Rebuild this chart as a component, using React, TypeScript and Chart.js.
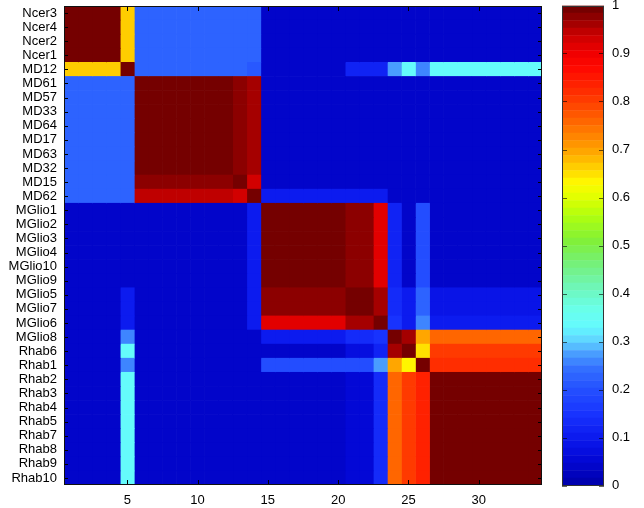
import React, { useEffect, useRef } from "react";
import { Chart, registerables } from "chart.js";

Chart.register(...registerables);

const rowLabels = [
  "Ncer3", "Ncer4", "Ncer2", "Ncer1", "MD12", "MD61", "MD57", "MD33", "MD64", "MD17",
  "MD63", "MD32", "MD15", "MD62", "MGlio1", "MGlio2", "MGlio3", "MGlio4", "MGlio10", "MGlio9",
  "MGlio5", "MGlio7", "MGlio6", "MGlio8", "Rhab6", "Rhab1", "Rhab2", "Rhab3", "Rhab4", "Rhab5",
  "Rhab7", "Rhab8", "Rhab9", "Rhab10",
];

const colNumbers = [
  1, 2, 3, 4, 5, 6, 7, 8, 9, 10, 11, 12, 13, 14, 15, 16, 17, 18, 19, 20,
  21, 22, 23, 24, 25, 26, 27, 28, 29, 30, 31, 32, 33, 34,
];

const xTickValues = [5, 10, 15, 20, 25, 30];
const colorbarTicks = [0, 0.1, 0.2, 0.3, 0.4, 0.5, 0.6, 0.7, 0.8, 0.9, 1];

// columns grouped: 1-4 | 5 | 6-12 | 13 | 14 | 15-20 | 21-22 | 23 | 24 | 25 | 26 | 27-34
const corr: number[][] = [
  [.99,.99,.99,.99, .67, .22,.22,.22,.22,.22,.22,.22, .23, .23, .04,.04,.04,.04,.04,.04, .04,.04, .04, .04, .04, .04, .04,.04,.04,.04,.04,.04,.04,.04],
  [.99,.99,.99,.99, .67, .22,.22,.22,.22,.22,.22,.22, .23, .23, .04,.04,.04,.04,.04,.04, .04,.04, .04, .04, .04, .04, .04,.04,.04,.04,.04,.04,.04,.04],
  [.99,.99,.99,.99, .67, .22,.22,.22,.22,.22,.22,.22, .23, .23, .04,.04,.04,.04,.04,.04, .04,.04, .04, .04, .04, .04, .04,.04,.04,.04,.04,.04,.04,.04],
  [.99,.99,.99,.99, .67, .22,.22,.22,.22,.22,.22,.22, .23, .23, .04,.04,.04,.04,.04,.04, .04,.04, .04, .04, .04, .04, .04,.04,.04,.04,.04,.04,.04,.04],
  [.67,.67,.67,.67, .99, .22,.22,.22,.22,.22,.22,.22, .23, .21, .04,.04,.04,.04,.04,.04, .11,.11, .11, .27, .33, .25, .33,.33,.33,.33,.33,.33,.33,.33],
  [.22,.22,.22,.22, .22, .99,.99,.99,.99,.99,.99,.99, .975, .96, .04,.04,.04,.04,.04,.04, .04,.04, .04, .04, .04, .04, .04,.04,.04,.04,.04,.04,.04,.04],
  [.22,.22,.22,.22, .22, .99,.99,.99,.99,.99,.99,.99, .975, .96, .04,.04,.04,.04,.04,.04, .04,.04, .04, .04, .04, .04, .04,.04,.04,.04,.04,.04,.04,.04],
  [.22,.22,.22,.22, .22, .99,.99,.99,.99,.99,.99,.99, .975, .96, .04,.04,.04,.04,.04,.04, .04,.04, .04, .04, .04, .04, .04,.04,.04,.04,.04,.04,.04,.04],
  [.22,.22,.22,.22, .22, .99,.99,.99,.99,.99,.99,.99, .975, .96, .04,.04,.04,.04,.04,.04, .04,.04, .04, .04, .04, .04, .04,.04,.04,.04,.04,.04,.04,.04],
  [.22,.22,.22,.22, .22, .99,.99,.99,.99,.99,.99,.99, .975, .96, .04,.04,.04,.04,.04,.04, .04,.04, .04, .04, .04, .04, .04,.04,.04,.04,.04,.04,.04,.04],
  [.22,.22,.22,.22, .22, .99,.99,.99,.99,.99,.99,.99, .975, .96, .04,.04,.04,.04,.04,.04, .04,.04, .04, .04, .04, .04, .04,.04,.04,.04,.04,.04,.04,.04],
  [.22,.22,.22,.22, .22, .99,.99,.99,.99,.99,.99,.99, .975, .96, .04,.04,.04,.04,.04,.04, .04,.04, .04, .04, .04, .04, .04,.04,.04,.04,.04,.04,.04,.04],
  [.23,.23,.23,.23, .23, .97,.97,.97,.97,.97,.97,.97, .99, .93, .04,.04,.04,.04,.04,.04, .04,.04, .04, .04, .04, .04, .04,.04,.04,.04,.04,.04,.04,.04],
  [.23,.23,.23,.23, .22, .95,.95,.95,.95,.95,.95,.95, .93, .99, .10,.10,.10,.10,.10,.10, .10,.10, .10, .04, .04, .04, .04,.04,.04,.04,.04,.04,.04,.04],
  [.04,.04,.04,.04, .04, .04,.04,.04,.04,.04,.04,.04, .04, .10, .99,.99,.99,.99,.99,.99, .97,.97, .92, .11, .04, .20, .04,.04,.04,.04,.04,.04,.04,.04],
  [.04,.04,.04,.04, .04, .04,.04,.04,.04,.04,.04,.04, .04, .10, .99,.99,.99,.99,.99,.99, .97,.97, .92, .11, .04, .20, .04,.04,.04,.04,.04,.04,.04,.04],
  [.04,.04,.04,.04, .04, .04,.04,.04,.04,.04,.04,.04, .04, .10, .99,.99,.99,.99,.99,.99, .97,.97, .92, .11, .04, .20, .04,.04,.04,.04,.04,.04,.04,.04],
  [.04,.04,.04,.04, .04, .04,.04,.04,.04,.04,.04,.04, .04, .10, .99,.99,.99,.99,.99,.99, .97,.97, .92, .11, .04, .20, .04,.04,.04,.04,.04,.04,.04,.04],
  [.04,.04,.04,.04, .04, .04,.04,.04,.04,.04,.04,.04, .04, .10, .99,.99,.99,.99,.99,.99, .97,.97, .92, .11, .04, .20, .04,.04,.04,.04,.04,.04,.04,.04],
  [.04,.04,.04,.04, .04, .04,.04,.04,.04,.04,.04,.04, .04, .10, .99,.99,.99,.99,.99,.99, .97,.97, .92, .11, .04, .20, .04,.04,.04,.04,.04,.04,.04,.04],
  [.04,.04,.04,.04, .10, .04,.04,.04,.04,.04,.04,.04, .04, .10, .97,.97,.97,.97,.97,.97, .99,.99, .96, .14, .10, .22, .09,.09,.09,.09,.09,.09,.09,.09],
  [.04,.04,.04,.04, .10, .04,.04,.04,.04,.04,.04,.04, .04, .10, .97,.97,.97,.97,.97,.97, .99,.99, .96, .14, .10, .22, .09,.09,.09,.09,.09,.09,.09,.09],
  [.04,.04,.04,.04, .10, .04,.04,.04,.04,.04,.04,.04, .04, .10, .92,.92,.92,.92,.92,.92, .96,.96, .99, .15, .10, .26, .10,.10,.10,.10,.10,.10,.10,.10],
  [.04,.04,.04,.04, .26, .04,.04,.04,.04,.04,.04,.04, .04, .04, .10,.10,.10,.10,.10,.10, .13,.13, .15, .99, .96, .69, .76,.76,.76,.76,.76,.76,.76,.76],
  [.04,.04,.04,.04, .33, .04,.04,.04,.04,.04,.04,.04, .04, .04, .04,.04,.04,.04,.04,.04, .07,.07, .11, .96, .99, .65, .81,.81,.81,.81,.81,.81,.81,.81],
  [.04,.04,.04,.04, .26, .04,.04,.04,.04,.04,.04,.04, .04, .04, .20,.20,.20,.20,.20,.20, .20,.20, .27, .69, .625, .99, .82,.82,.82,.82,.82,.82,.82,.82],
  [.04,.04,.04,.04, .33, .04,.04,.04,.04,.04,.04,.04, .04, .04, .04,.04,.04,.04,.04,.04, .06,.06, .14, .76, .81, .83, .99,.99,.99,.99,.99,.99,.99,.99],
  [.04,.04,.04,.04, .33, .04,.04,.04,.04,.04,.04,.04, .04, .04, .04,.04,.04,.04,.04,.04, .06,.06, .14, .76, .81, .83, .99,.99,.99,.99,.99,.99,.99,.99],
  [.04,.04,.04,.04, .33, .04,.04,.04,.04,.04,.04,.04, .04, .04, .04,.04,.04,.04,.04,.04, .06,.06, .14, .76, .81, .83, .99,.99,.99,.99,.99,.99,.99,.99],
  [.04,.04,.04,.04, .33, .04,.04,.04,.04,.04,.04,.04, .04, .04, .04,.04,.04,.04,.04,.04, .06,.06, .14, .76, .81, .83, .99,.99,.99,.99,.99,.99,.99,.99],
  [.04,.04,.04,.04, .33, .04,.04,.04,.04,.04,.04,.04, .04, .04, .04,.04,.04,.04,.04,.04, .06,.06, .14, .76, .81, .83, .99,.99,.99,.99,.99,.99,.99,.99],
  [.04,.04,.04,.04, .33, .04,.04,.04,.04,.04,.04,.04, .04, .04, .04,.04,.04,.04,.04,.04, .06,.06, .14, .76, .81, .83, .99,.99,.99,.99,.99,.99,.99,.99],
  [.04,.04,.04,.04, .33, .04,.04,.04,.04,.04,.04,.04, .04, .04, .04,.04,.04,.04,.04,.04, .06,.06, .14, .76, .81, .83, .99,.99,.99,.99,.99,.99,.99,.99],
  [.04,.04,.04,.04, .33, .04,.04,.04,.04,.04,.04,.04, .04, .04, .04,.04,.04,.04,.04,.04, .06,.06, .14, .76, .81, .83, .99,.99,.99,.99,.99,.99,.99,.99],
];

// colormap stops: [value, r, g, b]
const cmapStops: number[][] = [
  [0.00, 0, 0, 168],
  [0.05, 2, 6, 212],
  [0.10, 12, 26, 238],
  [0.15, 24, 52, 255],
  [0.20, 36, 80, 255],
  [0.24, 50, 108, 255],
  [0.27, 70, 150, 255],
  [0.30, 95, 210, 255],
  [0.33, 100, 250, 255],
  [0.37, 105, 255, 230],
  [0.42, 112, 245, 175],
  [0.47, 118, 240, 110],
  [0.51, 130, 240, 55],
  [0.56, 175, 255, 15],
  [0.60, 225, 255, 0],
  [0.63, 255, 250, 0],
  [0.66, 255, 210, 0],
  [0.70, 255, 160, 0],
  [0.74, 255, 120, 0],
  [0.78, 255, 80, 0],
  [0.82, 255, 45, 0],
  [0.87, 255, 8, 0],
  [0.90, 240, 0, 0],
  [0.94, 200, 0, 0],
  [0.97, 150, 0, 0],
  [1.00, 106, 0, 0],
];
const cmapLevels = 64;

function interpColor(t: number): string {
  for (let i = 1; i < cmapStops.length; i++) {
    const a = cmapStops[i - 1];
    const b = cmapStops[i];
    if (t <= b[0]) {
      const f = (t - a[0]) / (b[0] - a[0]);
      const r = Math.round(a[1] + (b[1] - a[1]) * f);
      const g = Math.round(a[2] + (b[2] - a[2]) * f);
      const bl = Math.round(a[3] + (b[3] - a[3]) * f);
      return `rgb(${r},${g},${bl})`;
    }
  }
  const l = cmapStops[cmapStops.length - 1];
  return `rgb(${l[1]},${l[2]},${l[3]})`;
}

function cmapColor(v: number): string {
  const lvl = Math.min(cmapLevels - 1, Math.max(0, Math.floor(v * cmapLevels)));
  return interpColor((lvl + 0.5) / cmapLevels);
}

const FONT = { family: "'Liberation Sans', Arial, Helvetica, sans-serif", size: 13 };

const framePlugin = {
  id: "heatFrame",
  afterDraw(chart: any) {
    const { ctx, chartArea } = chart;
    const { left, right, top, bottom } = chartArea;
    const x = chart.scales.x;
    const y = chart.scales.y;
    ctx.save();
    ctx.strokeStyle = "#000";
    ctx.lineWidth = 1;
    ctx.beginPath();
    y.ticks.forEach((_: any, i: number) => {
      const py = Math.round(y.getPixelForTick(i)) + 0.5;
      ctx.moveTo(left, py);
      ctx.lineTo(left + 4, py);
      ctx.moveTo(right, py);
      ctx.lineTo(right - 4, py);
    });
    x.ticks.forEach((t: any) => {
      const px = Math.round(x.getPixelForValue(t.value)) + 0.5;
      ctx.moveTo(px, bottom);
      ctx.lineTo(px, bottom - 5);
      ctx.moveTo(px, top);
      ctx.lineTo(px, top + 5);
    });
    ctx.stroke();
    ctx.strokeStyle = "#111";
    ctx.strokeRect(Math.round(left) + 0.5, Math.round(top) + 0.5, Math.round(right - left) - 1, Math.round(bottom - top) - 1);
    ctx.restore();
  },
};

const colorbarPlugin = {
  id: "cbarFrame",
  afterDraw(chart: any) {
    const { ctx, chartArea } = chart;
    const { left, right, top, bottom } = chartArea;
    const y = chart.scales.y;
    ctx.save();
    ctx.strokeStyle = "rgba(0,0,0,0.6)";
    ctx.lineWidth = 1;
    ctx.beginPath();
    y.ticks.forEach((t: any) => {
      const py = Math.round(y.getPixelForValue(t.value)) + 0.5;
      ctx.moveTo(left, py);
      ctx.lineTo(left + 5, py);
      ctx.moveTo(right, py);
      ctx.lineTo(right - 5, py);
    });
    ctx.stroke();
    ctx.strokeStyle = "#333";
    ctx.strokeRect(Math.round(left) + 0.5, Math.round(top) + 0.5, Math.round(right - left) - 1, Math.round(bottom - top) - 1);
    ctx.restore();
  },
};

export default function App() {
  const mainRef = useRef<HTMLCanvasElement | null>(null);
  const cbarRef = useRef<HTMLCanvasElement | null>(null);

  useEffect(() => {
    const datasets = colNumbers.map((c, j) => ({
      label: String(c),
      data: rowLabels.map(() => [c - 0.5, c + 0.5]),
      backgroundColor: rowLabels.map((_, i) => cmapColor(corr[i][j])),
      borderWidth: 0,
      barPercentage: 1,
      categoryPercentage: 1,
      grouped: false,
    }));

    const main = new Chart(mainRef.current as HTMLCanvasElement, {
      type: "bar",
      data: { labels: rowLabels, datasets: datasets as any },
      options: {
        indexAxis: "y",
        animation: false,
        responsive: false,
        maintainAspectRatio: false,
        layout: { padding: { left: 0, top: 6, right: 8, bottom: 0 } },
        plugins: { legend: { display: false }, tooltip: { enabled: false } },
        scales: {
          x: {
            type: "linear",
            min: 0.5,
            max: 34.5,
            grid: { display: false, drawTicks: false },
            border: { display: false },
            ticks: { padding: 8, color: "#000", font: FONT, maxRotation: 0, autoSkip: false },
            afterBuildTicks: (s: any) => {
              s.ticks = xTickValues.map((v) => ({ value: v }));
            },
            afterFit: (s: any) => {
              s.height = 23;
              s.paddingLeft = 0;
              s.paddingRight = 0;
            },
          } as any,
          y: {
            type: "category",
            grid: { display: false, drawTicks: false },
            border: { display: false },
            ticks: { padding: 7, color: "#000", font: FONT, autoSkip: false },
            afterFit: (s: any) => {
              s.width = 64;
              s.paddingTop = 0;
              s.paddingBottom = 0;
            },
          } as any,
        },
      },
      plugins: [framePlugin],
    });

    const levels = Array.from({ length: cmapLevels }, (_, k) => k);
    const cbarSets = levels.map((k) => ({
      data: [[k / cmapLevels, (k + 1) / cmapLevels]],
      backgroundColor: interpColor((k + 0.5) / cmapLevels),
      borderWidth: 0,
      barPercentage: 1,
      categoryPercentage: 1,
      grouped: false,
    }));

    const cbar = new Chart(cbarRef.current as HTMLCanvasElement, {
      type: "bar",
      data: { labels: [""], datasets: cbarSets as any },
      options: {
        animation: false,
        responsive: false,
        maintainAspectRatio: false,
        layout: { padding: { left: 6, top: 5.5, right: 0, bottom: 22.5 } },
        plugins: { legend: { display: false }, tooltip: { enabled: false } },
        scales: {
          x: { display: false },
          y: {
            type: "linear",
            position: "right",
            min: 0,
            max: 1,
            grid: { display: false, drawTicks: false },
            border: { display: false },
            ticks: {
              padding: 8,
              color: "#000",
              font: FONT,
              autoSkip: false,
              callback: (v: any) => String(Number(Number(v).toFixed(1))),
            },
            afterBuildTicks: (s: any) => {
              s.ticks = colorbarTicks.map((v) => ({ value: v }));
            },
            afterFit: (s: any) => {
              s.width = 40;
              s.paddingTop = 0;
              s.paddingBottom = 0;
            },
          } as any,
        },
      },
      plugins: [colorbarPlugin],
    });

    return () => {
      main.destroy();
      cbar.destroy();
    };
  }, []);

  return (
    <div style={{ position: "absolute", left: 0, top: 0, width: 644, height: 508, background: "#fff" }}>
      <canvas
        ref={mainRef}
        width={550}
        height={508}
        style={{ position: "absolute", left: 0, top: 0, width: 550, height: 508 }}
      />
      <canvas
        ref={cbarRef}
        width={88}
        height={508}
        style={{ position: "absolute", left: 556, top: 0, width: 88, height: 508 }}
      />
    </div>
  );
}
